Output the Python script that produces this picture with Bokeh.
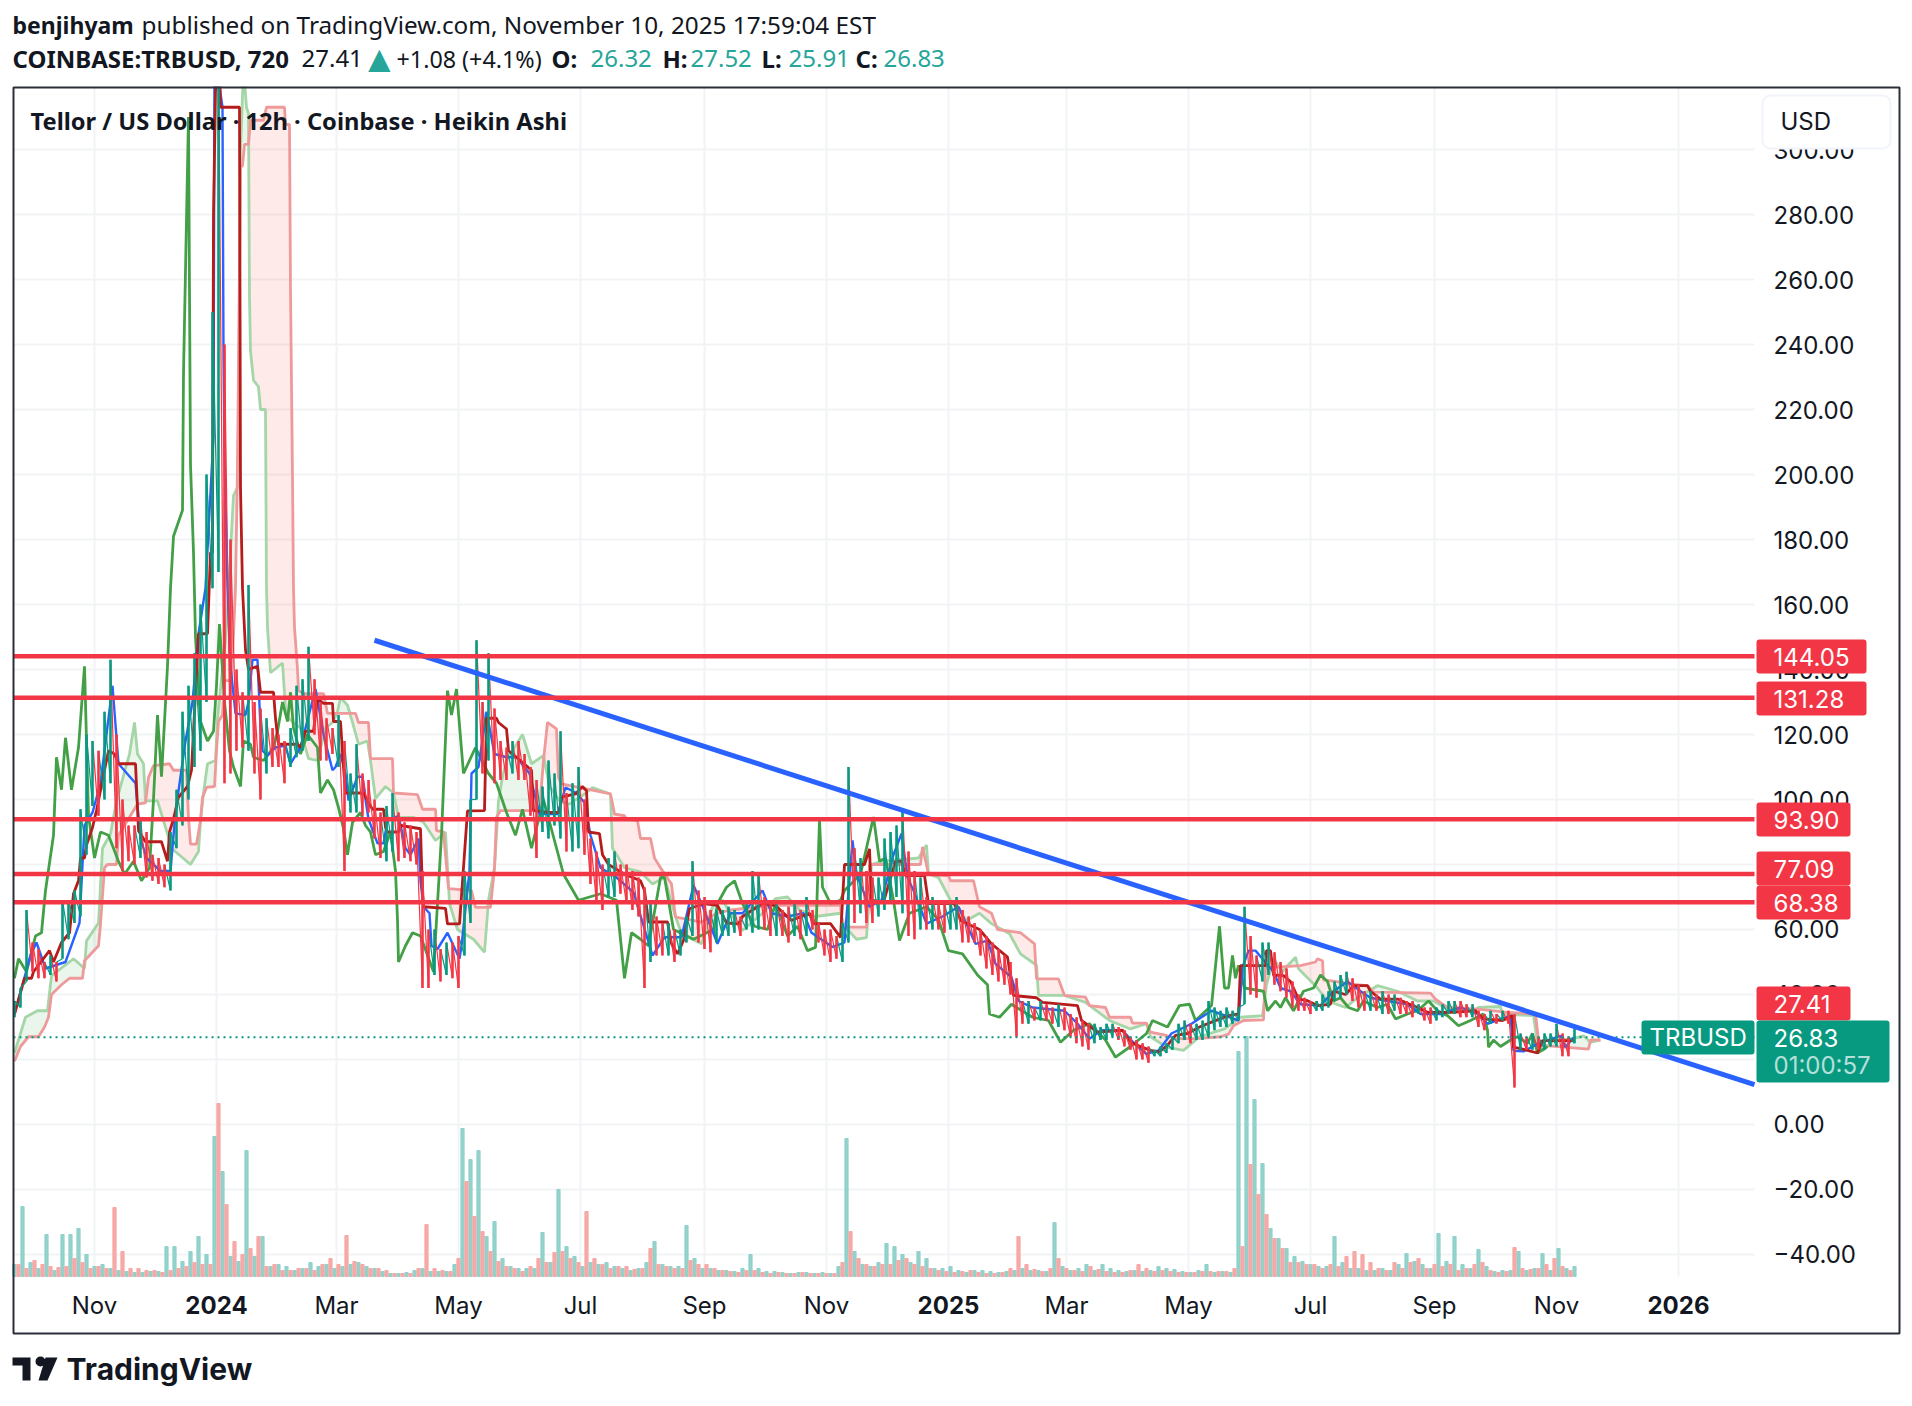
#TRBUSD 12h Heikin Ashi chart with Ichimoku cloud, volume and drawn levels
import numpy as np
import pandas as pd
from bokeh.plotting import figure
from bokeh.embed import file_html
from bokeh.resources import INLINE
from bokeh.models import Range1d, FixedTicker, Label, BoxAnnotation, PolyAnnotation, ColumnDataSource, LinearAxis

start_date = pd.Timestamp("2023-09-22")

#time axis
month_dates = ["2023-11-01", "2024-03-01", "2024-05-01", "2024-07-01", "2024-09-01", "2024-11-01",
               "2025-03-01", "2025-05-01", "2025-07-01", "2025-09-01", "2025-11-01"]
month_labels = ["Nov", "Mar", "May", "Jul", "Sep", "Nov", "Mar", "May", "Jul", "Sep", "Nov"]
year_dates = ["2024-01-01", "2025-01-01", "2026-01-01"]
year_labels = ["2024", "2025", "2026"]
price_ticks = [-40, -20, 0, 20, 40, 60, 80, 100, 120, 140, 160, 180, 200, 220, 240, 260, 280, 300]

#candles, one sample every 3 days
candle_step = 3
candle_low = [33,36,44,47,45,45,46,44,51,57,62,64,83,98,95,100,105,85,78,81,80,82,76,75,74,73,72,85,92,100,
              110,115,130,165,170,105,108,115,116,115,108,100,108,110,110,105,110,113,115,118,120,112,112,114,110,
              78,96,96,95,96,88,82,81,84,81,82,81,80,42,42,46,44,46,45,42,52,62,100,108,112,105,106,106,108,106,106,
              95,82,90,88,92,88,84,84,85,83,74,68,66,70,70,71,68,66,64,42,50,52,52,52,50,52,56,58,56,54,53,56,58,58,
              59,58,60,59,60,60,58,58,58,56,58,57,58,60,56,52,50,51,50,56,62,65,62,62,64,66,68,70,65,58,57,60,60,60,
              60,59,60,60,56,56,56,52,48,46,44,43,40,27,31,31,32,32,32,31,30,29,27,25,24,23,25,26,26,27,26,24,23,20,
              20,19,21,21,22,23,25,26,25,26,26,27,29,30,30,31,32,37,40,39,44,46,43,41,39,36,35,35,34,35,35,36,38,39,
              40,38,36,35,35,35,34,34,35,34,34,33,34,32,31,32,33,34,34,33,33,33,30,29,31,31,32,31,11.4,23,23,23,23,
              23,24,24,21,21,25]
candle_high = [38,42,66,56,54,50,52,50,69,69,72,97,120,118,115,127,143,120,100,92,92,94,90,83,82,80,90,103,127,135,
               145,160,200,250,330,240,180,140,133,166,130,128,125,122,120,118,122,135,137,147,137,130,125,122,126,
               118,108,117,108,106,100,96,98,102,96,93,92,90,78,60,60,54,56,56,58,78,100,149,130,145,128,118,116,118,118,114,
               110,106,104,112,108,121,102,105,110,100,88,84,80,82,84,80,80,78,76,73,68,64,62,62,60,60,64,81,72,70,66,66,66,67,
               66,64,68,78,77,70,68,68,66,67,69,66,70,66,62,60,60,58,62,110,85,82,78,76,76,88,90,92,97,84,78,76,70,70,
               68,68,69,70,66,64,62,60,58,56,54,52,50,45,38,38,36,38,37,36,37,36,34,33,32,31,31,30,31,31,30,29,27,26,
               25,24,23,24,25,27,31,32,31,31,32,38,36,35,36,35,36,67,58,52,56,56,53,50,48,44,40,39,38,38,40,41,44,46,
               47,45,43,41,41,40,41,40,40,39,38,38,37,36,36,36,37,38,38,38,37,37,35,34,35,34,35,35,34,28,27,28,27,
               28,28,31,28,27,29.4]

#lagging span as (day, price) pairs
lag_line = [(0,45),(2,51),(6,47),(10.5,58),(13.5,59),(15.5,72),(19.5,89),(21,113),(23.5,103),(25.5,119),(28.5,103),(32,116),(35,141),(37,95),
            (40,82),(43,90),(47,89),(52,81),(55,77),(59.5,81),(63.5,75),(67.5,79),(69.5,100),(71.5,126),(73.5,107),(76.5,141),(78,165),(79.5,181),
            (84,189),(84.5,231),(87,310),(88,203),(89.5,176),(90.5,150),(93,124),(96.5,118),(99.5,121),(101,135),(102.5,154),(105,130),(107.5,115),
            (109.5,110),(113,104),(114.5,118),(118,117),(119.5,113),(124.5,112),(129.5,116),(131.5,121),(134,130),(136.5,124),(138,133),(139.5,122),
            (143,114),(146.5,120),(151.5,116),(153,102),(156.5,106),(159.5,103),(162,97.5),(164.5,91),(166.5,83),(169,93),(173,96),(175.5,92),(178,90),
            (180.5,83),(184.5,84),(188,90),(190.5,78),(191.5,63),(192,50),(195.5,55),(199,59),(203,58),(209.5,47),(213.5,89),(216.5,133.5),(218.5,126),
            (221,134),(224.5,108),(230.5,116),(237,108),(241,105),(246,96),(250.5,89),(254,97),(258.5,85),(264.5,100),(274.5,77),(282,69),(293,71),
            (301,69),(305,45),(308.5,59),(313,57),(317,55),(323,76),(325,76),(329.5,60),(339.5,57),(349.5,60),(351.5,68),(356,73),(360,75),(364,68),
            (370,61),(376.5,60),(380.5,68),(386.5,58),(391.5,61),(396.5,53.5),(400.5,54.5),(402.5,93.6),(404,73),(408,68),(413,69),(415,72),(423,77),
            (429.5,94.6),(432.5,81),(435.5,82),(439.5,69),(442.5,56.6),(447.5,65),(456,67),(462,63),(467,53.5),(474,52.5),(481.5,46),(486.5,43),
            (487.5,34),(492.5,33),(498.5,37),(509,33),(517,32),(523,25.3),(529.5,29),(537.5,31),(545.5,26),(550.5,20.7),(558,24),(566,28),(569,32),
            (576.5,30),(582.5,36.6),(587.5,37),(590.5,32),(598.5,36.6),(602.5,61),(605,42),(607,42),(609,52),(610.5,45),(612,49),(615,42),(624.5,41),
            (626.5,35),(630.5,38),(633,36),(635.5,39),(639.5,35),(644.5,41),(649.5,42),(653,46),(656.5,44),(659.5,38),(663,39),(667,36),(671.5,35),
            (674.5,38),(681.5,36),(686.5,37),(690.5,32.5),(696.5,34),(701.5,35),(707,38),(711.5,35),(716.5,33.5),(722,30.4),(728,32),(734.5,34),
            (736.5,29),(737,23.8),(739.5,26),(743,24),(748,26),(751.5,27),(756.5,25),(759,28),(761.5,22),(766.5,24)]

#base line
base_line = [(0,34),(5,45),(8.5,45),(9.5,47),(17.5,53.5),(19.5,50),(23.5,56),(27.5,59),(29.5,71),(32,75),(33,82),(35,82),(36,86),(39,91.4),(41,96.6),
             (45,109),(47,115),(50,114),(52,111),(60.5,111),(62,90.4),(65.5,87),(73.5,87),(76.5,81),(77.5,90),(79.5,94),(82,100.7),(86.5,104),(88.5,109),
             (90.5,133),(92,151),(96.5,151),(98,176),(99,176),(99.5,280),(100.5,318),(102.5,325),(103,313),(112.5,313),(113,196),(114,165),(115.5,146),
             (117,140),(121.5,141),(123,133),(129.5,133),(130.5,125),(132,117),(141.5,117),(143,116),(145.5,121),(149.5,121),(151.5,131),(154.5,129.6),
             (159,129.6),(159.5,124),(163,124),(164.5,110),(165.5,102),(174.5,102),(177,99),(179,97),(184.5,97),(185.5,91.4),(186.5,90),(192,90),(193,92),
             (203,91),(204,71),(204.5,67),(215.5,66.5),(216.5,61.7),(222.5,61.7),(226.5,96.5),(235,96.6),(236,125),(241,125),(242,123.7),(246,121.7),(247,115),
             (251,113),(258.5,109),(259.5,96.6),(267.5,96),(272.5,96),(273.5,100.7),(280.5,101.7),(284,104),(286,102.7),(287,90),(292.5,89.5),(294,83),(297,80),
             (305,77),(313,75),(315,72),(317,62.3),(326.5,62.3),(328.5,55.6),(331.5,52.5),(334.5,56.6),(337.5,66.4),(344.5,68),(351.5,67.4),(356,62),(362,61.7),
             (364,64),(374,68),(380.5,67.4),(388.5,62.8),(397.5,65),(399.5,61.8),(408,61.8),(413,57.6),(415,80),(425,80),(427.5,84.8),(428.5,69),(434.5,68.4),
             (440.5,81),(443.5,81),(445.5,76.6),(455,76.6),(457,68),(470,68),(473,62.8),(482.5,60),(488.5,55.6),(496.5,51.5),(499.5,39.7),(511,39),(514,37.6),
             (531.5,36.6),(533.5,32),(541.5,28.4),(554,29),(558,25.3),(563,24),(568,22.8),(572,22.3),(576,24),(580.5,27.4),(586.5,28),(592.5,30),(598.5,31.5),
             (607,33.5),(612,34),(613,48.9),(625.5,48.9),(626,53.5),(628,53.5),(629.5,46),(634.5,45.8),(638,44),(642,38.6),(646.5,38.1),(651.5,36.6),(658,37),
             (659.5,41),(665.5,40),(669.5,42.7),(676.5,42.7),(678,41),(683,38.6),(691.5,38.6),(701.5,36),(706.5,34.5),(718,34.5),(730.5,35),(734.5,32.5),(744,32),
             (749,33.5),(749.5,23.8),(754,23.2),(761.5,22),(764,25.8),(777,25.8),(780,25.8)]

#conversion line
conv_line = [(0,34),(8,52),(11,56),(15.5,48),(20.5,49),(25.5,50),(32.5,62),(35,92),(39,96),(43,105),(47,125),(49,135),(52,111),(60.5,105),(63,88),(66,82),(73,78),
             (78,78),(80.5,96),(85.5,118),(89,130),(92,151),(95.5,165),(99.5,212),(100,330),(104,313),(104.5,237),(105,206),(106.5,165),(108,141),(110.5,126.5),
             (115.5,126),(117,130),(119,143),(121.5,143),(123,122),(124,115),(126.5,113.5),(130.5,116),(135.5,116.6),(138,111),(143,116),(148,128),(150.5,134),
             (154.5,120),(159,109),(160.5,110),(163,114),(165.5,108),(167,99.7),(171.5,107),(174,107),(175.5,100),(177,94),(181.5,86.5),(184.5,86.5),(186.5,93.5),
             (192,95),(195.5,85),(198,83),(202,88),(203,75),(204.5,67),(207.5,65),(208.5,55),(211.5,54),(216.5,59),(222.5,51),(223.5,55),(227.5,78),(228.5,108),
             (232,110),(236,127),(240,114),(246,113),(251,113),(257.5,108),(262.5,95.5),(271.5,95.5),(275.5,103.7),(281,102),(285,99),(288,89),(293,79),(301,76),
             (309.5,71.4),(319,52),(325,57.6),(333.5,57.6),(339.5,73.6),(343.5,68),(351.5,55.6),(358,65),(364,65),(374,72),(378.5,65),(386.5,64),(394.5,65),(398.5,59),
             (409,54.6),(415,56),(419,87.4),(421,77),(427.5,67),(433.5,69),(439.5,83),(443.5,89.5),(446.5,76),(449.5,72),(456,61.8),(464,64),(472,67),(480.5,55.6),
             (486.5,56.6),(490.5,49.4),(498.5,45.3),(502,38),(509,36),(525,35),(531.5,31),(537.5,26.4),(543.5,29),(554,29),(560,24.8),(566,21.7),(572,22.8),(578.5,28),
             (588.5,31),(598.5,35),(603,34),(612,32),(614,48.4),(617,53.5),(620.5,53.5),(629.5,47),(633,42),(638,41),(643,37),(653,36.6),(659.5,41),(666.5,44),(673,41),
             (678,39),(686.5,38),(696.5,37),(703,34),(713,34),(723,36),(731.5,34),(736.5,31),(748,33.5),(749.5,22.7),(754.5,22.5),(761.5,24.8),(773,27.3),(775.5,23.8),(779.5,26.8)]

#leading span A
span_a_line = [(0,22),(5.5,33),(11.5,35),(16.5,35),(18.5,45.8),(29.5,51),(35,48),(36,56.5),(42,62),(44,85),(48,89.4),(51,99.6),(57.5,114),(60,123.7),(61.5,114),
               (64.5,111),(65.5,99.6),(71.5,99.6),(73.5,95.5),(76.5,89.4),(78.5,85),(88,80),(92,84),(93,93.5),(94.5,102),(96.5,111),(100.5,112),(101.5,125),(105.5,149),
               (107,165),(109.5,193.5),(111.5,196),(112,217),(113,300),(114.5,325),(116,313),(117,311),(117.5,254.5),(118,238),(119.5,229),(122,227),(123,220),(125.5,220),
               (126,165),(126.5,153),(128,139),(134,142),(135.5,128),(137,125),(139.5,123.7),(143,122),(144.5,118),(147,112.6),(151.5,112),(155.5,122),(159,123.7),(161.5,127),
               (163,131.4),(166.5,129),(169,123.7),(172,117),(176.5,118),(178,112),(180.5,100.3),(185.5,104),(189.5,102),(192,94.5),(199.5,94.5),(204.5,93),(210.5,87.4),
               (215.5,90),(217.5,68),(221.5,60),(229.5,57),(235,53),(237,69),(240,79),(242,99.6),(244,107),(246,112),(254,120),(258.5,111),(264.5,113.5),(267.5,104),(272.5,99.6),
               (277.5,98.6),(285,101.7),(289,103.7),(298,101.7),(299,85),(305,79),(313,77.7),(319,74),(325,76),(330.5,64),(333.5,58.7),(343.5,55.6),(349.5,68),(354,69),(358,65),
               (364,59.7),(374,65),(380.5,69.5),(386.5,70),(392.5,66),(400.5,64),(413,65),(415,61),(421,57),(426,57.5),(428.5,80),(433.5,81),(452,82),(456,86),(457,77),(462,76),
               (468,69),(476,62.8),(482.5,65),(488.5,61.8),(497.5,58.7),(503,52.5),(511,49),(512,39.7),(525,39.7),(535.5,37.6),(547.5,32),(558,29.4),(566,31),(568,27),(576,23.8),
               (584.5,22.8),(592.5,27),(605,29.4),(613,33),(624,33.5),(626,43),(629.5,50.9),(634,47),(640.5,51.5),(642,47.9),(650.5,42.7),(656.5,38),(665.5,36),(671.5,39),
               (681.5,42.7),(691.5,41),(701.5,38),(709.5,38),(716.5,35.5),(729.5,35),(732,36),(743,36.3),(744,34),(759.5,33.5),(761.5,24.8),(764,22.7),(769.5,25.8),(778,26.3),
               (784.5,27.3),(788,25.3),(793,26)]

#leading span B
span_b_line = [(0,19.5),(3,24),(7,27),(12,27),(15,30),(17,33),(18.5,40),(23.5,43),(27.5,45),(34,45),(35,50.4),(42,55),(43,61.7),(45,79),(46.5,80),(51,80),(52,89),(61.5,98.6),
               (65.5,99),(67,106.8),(69.5,110.4),(77.5,111),(79.5,109),(86,109),(87,94.5),(88,86.3),(91,86.3),(93,93.5),(94,100.7),(96,103.7),(100,104),(101,115),(102,124),(104,126),
               (105,136.6),(108.5,136.6),(110.5,165),(111.5,203),(113,294.5),(114,295),(115,301.6),(117,301.6),(118,309),(124.5,309),(126,313),(135,313),(135.5,307.7),(137.5,307.7),
               (138,257),(139,199),(139.5,165),(140,153),(141.5,140),(142,133.5),(144.5,132.6),(154.5,132.6),(156.5,126.5),(170.5,126.5),(172,123.7),(177,123.7),(178,112.6),(189,112.6),
               (189.5,102),(201.5,101.5),(204,97),(210.5,97),(211,90.4),(214.5,90),(217,72.6),(228.5,72),(230.5,66.8),(238,66.8),(240,79),(241,94.5),(243,96.6),(262.5,96.6),(264.5,112),
               (266.5,123.7),(271,121.7),(272,106.8),(273.5,104.8),(298,101.7),(300,95.5),(305,95),(306,94),(311.5,93.5),(313,88),(318,88),(320,82),(323,79),(328.5,74),(330.5,63.8),
               (335.5,63.3),(343.5,62.3),(350.5,64.8),(358,66),(378.5,67.4),(394.5,67.4),(413,67.4),(414,60.7),(426,60.7),(427.5,80),(453,80),(454,85.4),(457,77),(467,76.6),(468,75),
               (479.5,75),(482.5,67),(488.5,65),(491.5,60),(503,59),(510,55.6),(511,44.8),(522,44.8),(525,39.7),(535.5,39.2),(537.5,36.6),(545.5,36),(547.5,33),(558,33),(559,31.2),
               (566,31.2),(568,28.4),(576,27.4),(580.5,26.4),(590.5,26.4),(603,27),(607,27.8),(609.5,30.4),(614.5,32),(624.5,32.2),(625.5,48.4),(631.5,48.4),(643,48.9),(650.5,50),
               (651.5,51),(654,50.4),(654.5,44.5),(663,43.8),(667,43.3),(676.5,42.7),(679.5,40.7),(708,40.4),(710.5,38.6),(716.5,36),(731.5,35.5),(746.5,34.5),(760.5,34),(762,25.8),
               (765.5,24.3),(787,23.2),(788,26),(793,26)]

#volume bars, green and red samples take turns every 2 days
volume_step = 4
vol_up = [12,70,14,8,42,6,42,42,48,22,10,12,8,6,5,4,4,5,5,30,30,15,25,40,22,140,105,20,15,126,20,40,10,12,10,6,8,14,10,12,8,10,12,14,10,8,5,3,3,4,
          6,8,5,5,5,12,148,117,126,40,55,18,10,8,8,8,44,14,87,30,20,10,14,12,14,10,8,6,8,14,35,12,10,10,51,18,8,8,6,6,5,8,22,8,5,5,4,3,4,4,
          3,4,3,10,138,25,12,10,14,33,30,22,14,25,18,8,8,10,6,4,6,6,5,4,5,6,8,6,6,5,54,10,6,8,12,6,12,8,6,5,6,5,6,10,8,7,5,4,6,12,
          4,5,4,225,240,177,113,48,38,28,20,15,12,10,10,40,14,8,8,6,6,8,6,12,23,15,12,8,43,15,40,12,8,27,10,5,6,6,25,6,8,23,6,28,8,10]
vol_down = [12,8,16,12,10,9,10,18,14,8,10,8,69,25,8,8,6,6,4,6,8,10,14,12,12,173,72,35,22,28,40,10,12,6,6,8,8,6,12,18,12,41,15,12,8,8,6,3,3,3,
            8,52,8,6,5,18,95,60,45,25,15,10,8,5,10,18,14,24,25,18,14,65,18,12,8,10,10,7,8,28,12,10,8,8,16,12,12,8,6,5,4,6,6,4,3,4,3,3,4,3,
            3,3,3,14,45,18,12,10,12,12,16,18,12,10,8,6,5,4,5,6,4,3,3,4,8,40,12,7,5,8,18,8,6,5,10,7,5,4,4,6,12,8,5,6,5,4,4,4,5,5,
            5,5,8,30,112,82,62,38,28,14,14,12,12,8,12,10,20,25,22,14,8,6,14,8,14,18,8,12,10,12,6,8,12,14,6,4,5,29,8,7,8,12,18,10,6]

#drawn levels and trend line
level_values = [144.05, 131.28, 93.90, 77.09, 68.38]
trend_days = [180, 870]
trend_values = [149, 12.3]
last_price = 26.83

up_color = "#089981"
down_color = "#F23645"
text_color = "#131722"
font_ui = "Noto Sans"
font_num = "Inter"
num_size = "24px"
grid_color = "#F2F3F5"

#the plot area fills the page so that header and price tags can sit outside the chart pane
left_day, right_day = -0.5, 870
low_price, high_price = -46.77, 319.08
p = figure(width=1904, height=1398, output_backend="svg", toolbar_location=None,
           x_axis_type=None, y_axis_type=None,
           x_range=Range1d(-7, 945), y_range=Range1d(-84.31, 345.85),
           min_border=0)
p.outline_line_color = None
p.background_fill_color = "white"
p.grid.visible = False
p.extra_y_ranges = {"volume": Range1d(-122, 1276)}


def to_day(d):
    return (pd.Timestamp(d) - start_date).days


def unzip(points):
    return [pt[0] for pt in points], [pt[1] for pt in points]


#axes, the grid is drawn from the same ticks and stops at the pane
month_ticks = [to_day(d) for d in month_dates]
year_ticks = [to_day(d) for d in year_dates]
x_overrides = dict(zip(month_ticks, month_labels))
for t in year_ticks:
    x_overrides[t] = ""
time_ticks = sorted(month_ticks + year_ticks)
xaxis = LinearAxis(ticker=FixedTicker(ticks=time_ticks), fixed_location=low_price,
                   major_label_overrides=x_overrides, major_label_standoff=9)
yaxis = LinearAxis(ticker=FixedTicker(ticks=price_ticks), fixed_location=right_day, major_label_standoff=13,
                   major_label_overrides={v: f"{v:.2f}".replace("-", "\u2212") for v in price_ticks})
for ax in [xaxis, yaxis]:
    ax.axis_line_color = None
    ax.major_tick_line_color = None
    ax.minor_tick_line_color = None
    ax.major_label_text_font = font_num
    ax.major_label_text_font_size = num_size
    ax.major_label_text_color = text_color
p.add_layout(xaxis, "below")
p.add_layout(yaxis, "right")
p.segment(x0=time_ticks, x1=time_ticks, y0=low_price, y1=high_price, line_color=grid_color, line_width=2)
p.segment(x0=left_day, x1=right_day, y0=price_ticks, y1=price_ticks, line_color=grid_color, line_width=2)

#volume
up_days = np.arange(len(vol_up)) * volume_step
down_days = np.arange(len(vol_down)) * volume_step + volume_step / 2
p.vbar(x=up_days, top=vol_up, bottom=0, width=1.6, color="#92D2CC", y_range_name="volume")
p.vbar(x=down_days, top=vol_down, bottom=0, width=1.6, color="#F7A9A7", y_range_name="volume")

#cloud fill between the two spans
span_a_days, span_a_values = unzip(span_a_line)
span_b_days, span_b_values = unzip(span_b_line)
cloud_days = np.union1d(span_a_days, span_b_days)
cloud_a = np.interp(cloud_days, span_a_days, span_a_values)
cloud_b = np.interp(cloud_days, span_b_days, span_b_values)
cloud_top = np.maximum(cloud_a, cloud_b)
p.varea(x=cloud_days, y1=cloud_a, y2=cloud_top, fill_color="#F44336", fill_alpha=0.11)
p.varea(x=cloud_days, y1=cloud_b, y2=cloud_top, fill_color="#43A047", fill_alpha=0.11)

#ichimoku lines
p.line(span_a_days, span_a_values, line_color="#A5D6A7", line_width=2.8)
p.line(span_b_days, span_b_values, line_color="#EF9A9A", line_width=2.8)
p.line(*unzip(lag_line), line_color="#43A047", line_width=2.8)
p.line(*unzip(conv_line), line_color="#2962FF", line_width=2.4)
p.line(*unzip(base_line), line_color="#B71C1C", line_width=2.8)

#candles, coloured by the direction of the move and joined so the run reads as a dense scribble
candle_days = np.arange(len(candle_low)) * candle_step
mids = (np.array(candle_low) + np.array(candle_high)) / 2
rising = np.diff(mids, prepend=mids[0]) >= 0
candle_colors = [up_color if r else down_color for r in rising]
candles = ColumnDataSource(dict(x=candle_days, low=candle_low, high=candle_high, color=candle_colors))
p.segment(x0=candle_days[:-1], x1=candle_days[1:], y0=candle_high[:-1], y1=candle_low[1:],
          line_color=candle_colors[1:], line_width=1.2)
p.segment(x0="x", x1="x", y0="low", y1="high", line_color="color", line_width=2.6, source=candles)

#last price, trend line and levels
p.line([left_day, right_day], [last_price, last_price], line_color=up_color, line_width=2, line_dash=[2, 4])
p.line(trend_days, trend_values, line_color="#2962FF", line_width=5)
for v in level_values:
    p.line([left_day, right_day], [v, v], line_color=down_color, line_width=4.5)


def text(x, y, s, color=text_color, size="24px", style="normal", font=font_ui, align="left"):
    p.add_layout(Label(x=x, y=y, x_units="canvas", y_units="canvas", text=s, text_color=color,
                       text_font=font, text_font_size=size, text_font_style=style, text_align=align,
                       text_baseline="middle"))


def box(left, right, top, bottom, color, radius=3, line=None):
    p.add_layout(BoxAnnotation(left=left, right=right, top=top, bottom=bottom,
                               left_units="canvas", right_units="canvas", top_units="canvas", bottom_units="canvas",
                               fill_color=color, fill_alpha=1, line_color=line, line_alpha=1, line_width=2,
                               border_radius=radius))


#anything above the pane is cut off by a white strip
box(0, 1904, 0, 86, "white", radius=0)

#year labels are bold so they sit beside the axis labels
for t, s in zip(year_ticks, year_labels):
    p.add_layout(Label(x=t, y=1304, x_units="data", y_units="canvas", text=s, text_color=text_color,
                       text_font=font_num, text_font_size=num_size, text_font_style="bold", text_align="center",
                       text_baseline="middle"))

#outer frame
box(13, 1899, 87, 1333, None, radius=0, line="#2A2E39")

#usd box
box(1762, 1890, 95, 148, "white", radius=8, line="#F0F3FA")
text(1780, 121, "USD", size=num_size, font=font_num)

#price labels on the right
level_boxes = [(1866, 639, 673, 656), (1866, 681, 715, 698), (1850, 802, 836, 819), (1850, 851, 885, 868), (1850, 885, 919, 902)]
for (right, top, bottom, mid), v in zip(level_boxes, level_values):
    box(1756, right, top, bottom, down_color)
    text(1773, mid, f"{v:.2f}", color="white", size=num_size, font=font_num)
box(1756, 1850, 986, 1020, down_color)
text(1773, 1003, "27.41", color="white", size=num_size, font=font_num)
box(1641, 1754, 1020, 1054, up_color)
text(1649, 1037, "TRBUSD", color="white", size=num_size, font=font_num)
box(1756, 1889, 1020, 1082, up_color)
text(1773, 1037, "26.83", color="white", size=num_size, font=font_num)
text(1773, 1065, "01:00:57", color="#B5E0D9", size=num_size, font=font_num)

#header
text(12, 24, "benjihyam", size="23px", style="bold")
text(141, 24, "published on TradingView.com, November 10, 2025 17:59:04 EST", size="24.3px")
text(12, 58, "COINBASE:TRBUSD, 720", style="bold")
text(301, 58, "27.41")
text(360, 56, "\u25B2", color="#26A69A", size="38px")
text(396, 58, "+1.08 (+4.1%)", size="23.3px")
for x, s in [(551, "O:"), (662, "H:"), (761, "L:"), (855, "C:")]:
    text(x, 58, s, style="bold")
for x, s in [(590, "26.32"), (690, "27.52"), (788, "25.91"), (883, "26.83")]:
    text(x, 58, s, color="#26A69A")
text(30, 120, "Tellor / US Dollar \u00B7 12h \u00B7 Coinbase \u00B7 Heikin Ashi", size="23.7px", style="bold")

#tradingview logo
logo_color = "#131722"
p.add_layout(PolyAnnotation(xs=[12, 30, 30, 22, 22, 12], ys=[1357, 1357, 1380, 1380, 1365, 1365],
                            xs_units="canvas", ys_units="canvas", fill_color=logo_color, fill_alpha=1, line_color=None))
p.add_layout(PolyAnnotation(xs=[45, 57, 47, 38], ys=[1357, 1357, 1380, 1380],
                            xs_units="canvas", ys_units="canvas", fill_color=logo_color, fill_alpha=1, line_color=None))
box(35, 45, 1356, 1366, logo_color, radius=5)
text(66, 1368, "TradingView", size="30px", style="bold", font=font_num, color=logo_color)

open("out.html", "w").write(file_html(p, INLINE))
